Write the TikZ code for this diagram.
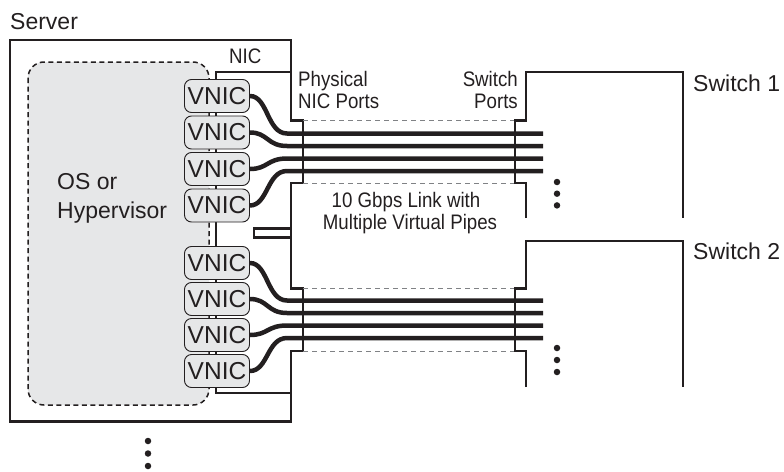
\documentclass[tikz,border=0pt]{standalone}
\usepackage{fontspec}
\setmainfont{Liberation Sans}
\newfontfamily\narrowfont{Liberation Sans}[FakeStretch=0.89]
\definecolor{ink}{HTML}{231F20}
\definecolor{osgray}{HTML}{E6E7E8}
\definecolor{portgray}{HTML}{808285}
\begin{document}
\begin{tikzpicture}[x=1pt,y=-1pt,
  outl/.style={draw=ink,line width=2.2pt},
  vnic/.style={draw=ink,line width=0.9pt,fill=osgray,rounded corners=7pt,minimum width=65pt,minimum height=33pt,inner sep=0pt,font=\fontsize{24.5}{28}\selectfont,text=ink},
  pipe/.style={draw=ink,line width=4.5pt},
  portline/.style={draw=portgray,line width=1pt,dash pattern=on 5pt off 4pt},
  lbl/.style={inner sep=0pt,font=\fontsize{23}{28}\selectfont,text=ink},
  sml/.style={inner sep=0pt,font=\narrowfont\fontsize{21}{25}\selectfont,text=ink},
  dotm/.style={circle,fill=ink,inner sep=0pt,minimum size=6.5pt}]
\useasboundingbox (0,0) rectangle (784,471);
% server box with NIC port steps
\draw[outl,fill=white] (10,40) -- (291,40) -- (291,120.5) -- (303,120.5) -- (303,183.3) -- (291,183.3)
  -- (291,288.5) -- (303,288.5) -- (303,351) -- (291,351) -- (291,421.5) -- (10,421.5) -- cycle;
% OS / hypervisor area
\draw[draw=ink,line width=1.5pt,dash pattern=on 5pt off 3.5pt,fill=osgray,rounded corners=16pt] (28,62) rectangle (209,405);
% NIC
\draw[outl] (291,72) -- (216,72) -- (216,393) -- (291,393);
\draw[outl,fill=white] (254,228.5) rectangle (291,237.5);
% VNICs
\node[vnic] (v1) at (217,96) {VNIC};
\node[vnic] (v2) at (217,132.5) {VNIC};
\node[vnic] (v3) at (217,169) {VNIC};
\node[vnic] (v4) at (217,205.5) {VNIC};
\node[vnic] (v5) at (217,263) {VNIC};
\node[vnic] (v6) at (217,299) {VNIC};
\node[vnic] (v7) at (217,335) {VNIC};
\node[vnic] (v8) at (217,371) {VNIC};
% pipe coordinates
\coordinate (n1) at (287,133.5); \coordinate (e1) at (543,133.5);
\coordinate (n2) at (287,146);   \coordinate (e2) at (543,146);
\coordinate (n3) at (287,158.5); \coordinate (e3) at (543,158.5);
\coordinate (n4) at (287,171);   \coordinate (e4) at (543,171);
\coordinate (n5) at (287,300.5); \coordinate (e5) at (543,300.5);
\coordinate (n6) at (287,313);   \coordinate (e6) at (543,313);
\coordinate (n7) at (287,325.5); \coordinate (e7) at (543,325.5);
\coordinate (n8) at (287,338);   \coordinate (e8) at (543,338);
\foreach \i in {1,...,8}{
  \draw[pipe] (v\i.east) .. controls +(18,0) and +(-20,0) .. (n\i) -- (e\i);
}
% dashed link outlines
\draw[portline] (303,120.5) -- (515,120.5);
\draw[portline] (303,183.3) -- (515,183.3);
\draw[portline] (303,288.5) -- (515,288.5);
\draw[portline] (303,351) -- (515,351);
% switches
\draw[outl] (526,218) -- (526,183.3) -- (515,183.3) -- (515,120.5) -- (526,120.5) -- (526,72.3) -- (683,72.3) -- (683,218);
\draw[outl] (526,387) -- (526,351) -- (515,351) -- (515,288.5) -- (526,288.5) -- (526,240.7) -- (683,240.7) -- (683,387);
% labels
\node[lbl,anchor=base west] (server) at (10,29) {Server};
\node[sml,anchor=base west] (nic) at (229,63) {NIC};
\node[sml,anchor=base west] (phys1) at (298,86) {Physical};
\node[sml,anchor=base west] (phys2) at (298,108.5) {NIC Ports};
\node[sml,anchor=base east] (swp1) at (518,86) {Switch};
\node[sml,anchor=base east] (swp2) at (518,108.5) {Ports};
\node[sml,anchor=base] (link1) at (406,207) {10 Gbps Link with};
\node[sml,anchor=base] (link2) at (410,229) {Multiple Virtual Pipes};
\node[lbl,anchor=base west] (os1) at (57,189) {OS or};
\node[lbl,anchor=base west] (os2) at (57,218) {Hypervisor};
\node[lbl,anchor=base west] (s1) at (693,91) {Switch 1};
\node[lbl,anchor=base west] (s2) at (693,259.5) {Switch 2};
% ellipsis dots
\foreach \y in {182,193.7,205.4}{\node[dotm] at (557,\y) {};}
\foreach \y in {348,360,372}{\node[dotm] at (557,\y) {};}
\foreach \y in {441,453.5,466}{\node[dotm] at (148,\y) {};}
\end{tikzpicture}
\end{document}
